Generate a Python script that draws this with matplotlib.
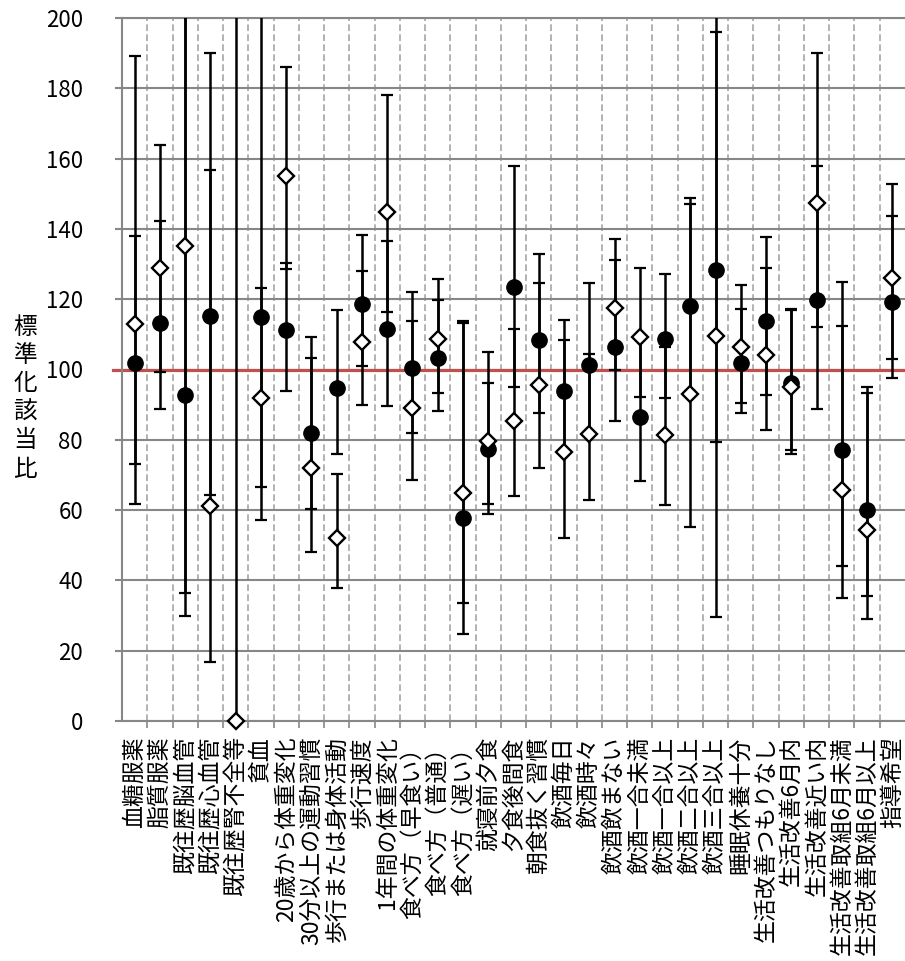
import matplotlib.pyplot as plt
import numpy as np

plt.rcParams['font.family'] = ['Noto Sans CJK JP', 'DejaVu Sans']

categories = ['血糖服薬', '脂質服薬', '既往歴脳血管', '既往歴心血管', '既往歴腎不全等', '貧血',
              '20歳から体重変化', '30分以上の運動習慣', '歩行または身体活動', '歩行速度',
              '1年間の体重変化', '食べ方（早食い）', '食べ方（普通）', '食べ方（遅い）',
              '就寝前夕食', '夕食後間食', '朝食抜く習慣', '飲酒毎日', '飲酒時々', '飲酒飲まない',
              '飲酒一合未満', '飲酒一合以上', '飲酒二合以上', '飲酒三合以上', '睡眠休養十分',
              '生活改善つもりなし', '生活改善6月内', '生活改善近い内', '生活改善取組6月未満',
              '生活改善取組6月以上', '指導希望']

# filled circles
circ = [101.9, 113.3, 92.7, 115.2, np.nan, 114.9, 111.2, 82.0, 94.8, 118.6,
        111.4, 100.5, 103.2, 57.7, 77.4, 123.6, 108.4, 94.0, 101.3, 106.5,
        86.6, 108.6, 118.1, 128.3, 101.8, 113.8, 96.1, 119.8, 77.1, 60.0, 119.1]
circ_lo = [73.0, 88.7, 36.3, 64.3, np.nan, 57.2, 94.0, 60.3, 76.0, 101.0,
           89.6, 81.8, 88.3, 24.8, 61.7, 94.9, 87.5, 77.0, 82.3, 85.4,
           68.3, 91.8, 93.8, 79.5, 87.5, 92.7, 77.1, 88.9, 44.0, 35.6, 97.7]
circ_hi = [138.1, 142.3, 240.0, 190.0, np.nan, 231.0, 130.4, 109.2, 116.9, 138.3,
           136.6, 122.1, 119.8, 113.8, 96.1, 158.0, 132.9, 114.1, 124.7, 131.2,
           109.5, 127.2, 147.1, 230.0, 117.1, 137.8, 117.2, 157.9, 125.0, 95.1, 143.7]

# open diamonds
diam = [112.9, 128.8, 135.1, 61.2, 0.0, 91.8, 155.1, 71.9, 52.2, 107.8,
        144.9, 89.1, 108.6, 65.0, 79.7, 85.4, 95.6, 76.4, 81.7, 117.4,
        109.3, 81.4, 92.9, 109.5, 106.5, 104.1, 94.9, 147.3, 65.7, 54.3, 126.1]
diam_lo = [61.6, 99.4, 29.9, 16.8, 0.0, 66.7, 128.5, 48.2, 37.7, 89.8,
           116.4, 68.6, 93.4, 33.5, 58.8, 64.0, 71.9, 52.0, 62.9, 99.9,
           92.3, 61.5, 55.1, 29.7, 90.6, 82.8, 76.0, 112.2, 35.1, 28.9, 102.9]
diam_hi = [189.2, 163.9, 400.0, 156.8, 400.0, 123.1, 186.0, 103.2, 70.2, 128.0,
           178.1, 113.8, 125.7, 113.3, 105.1, 111.5, 124.7, 108.4, 104.4, 137.0,
           128.8, 106.3, 148.7, 196.1, 124.0, 129.0, 117.0, 190.1, 112.5, 93.2, 152.7]

x = np.arange(1, len(categories) + 1)
circ = np.array(circ); circ_lo = np.array(circ_lo); circ_hi = np.array(circ_hi)
diam = np.array(diam); diam_lo = np.array(diam_lo); diam_hi = np.array(diam_hi)

fig = plt.figure(figsize=(9.05, 9.61), dpi=100)
ax = fig.add_axes([122/905, 1-721/961, (905-122)/905, (721-18)/961])

gray = '#878787'

# error bars
ax.errorbar(x, circ, yerr=[circ-circ_lo, circ_hi-circ], fmt='none', ecolor='black',
            elinewidth=1.8, capsize=4.3, capthick=1.6, zorder=3)
ax.errorbar(x, diam, yerr=[diam-diam_lo, diam_hi-diam], fmt='none', ecolor='black',
            elinewidth=1.8, capsize=4.3, capthick=1.6, zorder=3)

# reference line at 100
ax.plot([-0.012, 1], [100, 100], transform=ax.get_yaxis_transform(), color='#C0504D',
        lw=2.3, clip_on=False, zorder=2.5)

# markers
ax.plot(x, circ, 'o', ms=11, color='black', zorder=4, clip_on=False)
ax.plot(x, diam, 'D', ms=8.5, mfc='white', mec='black', mew=1.7, zorder=5, clip_on=False)

ax.set_xlim(0.5, len(categories) + 0.5)
ax.set_ylim(0, 200)
ax.set_yticks(range(0, 201, 20))
ax.yaxis.grid(True, color=gray, lw=1.5)
ax.set_xticks(x)
ax.set_xticklabels(categories, rotation=90, ha='center', va='top', fontsize=16.5)
ax.set_xticks(np.arange(1.5, len(categories), 1), minor=True)
ax.xaxis.grid(True, which='minor', color='#a6a6a6', ls=(0, (4, 2)), lw=1.2)
ax.set_axisbelow(True)

ax.tick_params(axis='x', which='major', length=0, pad=11)
ax.tick_params(axis='x', which='minor', length=5, width=1.2, color=gray)
ax.tick_params(axis='y', length=5, width=1.5, color=gray, labelsize=16, pad=23)

for s in ['left', 'bottom', 'top']:
    ax.spines[s].set_color(gray)
    ax.spines[s].set_linewidth(1.5)
ax.spines['right'].set_visible(False)

fig.text(25/905, 1-398/961, '\n'.join('標準化該当比'), ha='center', va='center',
         fontsize=17, linespacing=1.3)

fig.savefig('out.png', dpi=100)
